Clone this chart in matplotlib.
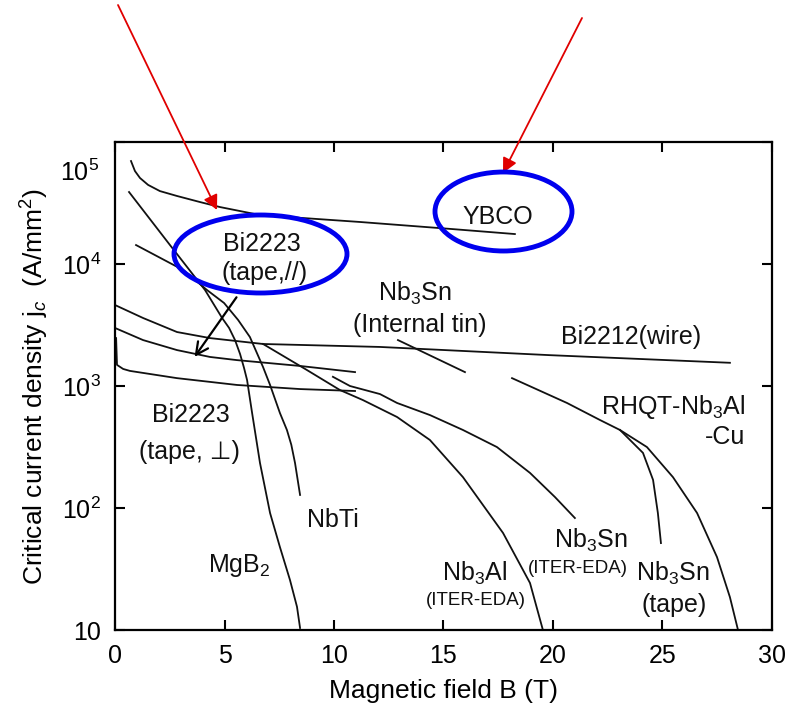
import numpy as np
import matplotlib
matplotlib.use("Agg")
import matplotlib.pyplot as plt
import matplotlib.transforms as mtransforms
from matplotlib.patches import Ellipse

plt.rcParams['font.family'] = ['Liberation Sans', 'DejaVu Sans']
plt.rcParams['mathtext.fontset'] = 'custom'
plt.rcParams['mathtext.rm'] = 'Liberation Sans'
plt.rcParams['mathtext.it'] = 'Liberation Sans:italic'
plt.rcParams['mathtext.bf'] = 'Liberation Sans:bold'

# curves: field B (T) and Jc (A/mm^2)
ybco_b = [0.73, 0.91, 1.14, 1.51, 2.05, 2.83, 3.88, 4.79, 6.62, 11.19, 15.30, 18.26]
ybco_j = [69800, 57800, 50700, 44500, 39600, 36100, 32200, 29300, 25200, 22100, 19400, 17600]

mgb2_b = [0.64, 2.51, 4.11, 4.89, 5.21, 5.48, 5.71, 5.89, 6.03, 6.26, 6.62, 7.08, 7.53, 7.99, 8.31, 8.45]
mgb2_j = [38900, 14300, 6120, 3610, 2990, 2380, 1830, 1410, 1120, 601, 234, 91, 47.9, 25.7, 15.5, 10.4]

nbti_b = [0.96, 3.11, 4.20, 4.98, 5.62, 6.16, 6.76, 7.08, 7.53, 7.85, 8.05, 8.22, 8.45]
nbti_j = [14300, 8930, 6120, 4790, 3480, 2520, 1430, 1020, 601, 436, 330, 234, 128]

bi2212_b = [0, 1.28, 2.83, 4.34, 6.76, 12.10, 19.86, 28.08]
bi2212_j = [4610, 3610, 2770, 2470, 2210, 2090, 1790, 1550]

bi2223_par_b = [0, 1.28, 2.83, 4.34, 5.57, 8.45, 10.96]
bi2223_par_j = [2990, 2380, 1970, 1730, 1630, 1460, 1300]

bi2223_perp_b = [0.05, 0.09, 0.37, 0.68, 2.83, 5.57, 8.45, 10.96]
bi2223_perp_j = [2470, 1490, 1380, 1330, 1160, 1020, 944, 910]

nb3al_b = [6.76, 8.77, 10.27, 11.32, 12.88, 14.38, 15.89, 17.72, 18.95, 19.54]
nb3al_j = [2210, 1350, 927, 767, 557, 361, 179, 62.4, 24.3, 10]

nb3sn_iter_b = [9.95, 10.73, 12.10, 12.88, 14.38, 15.89, 17.44, 18.95, 20.09, 21.0]
nb3sn_iter_j = [1190, 1000, 859, 726, 578, 436, 316, 194, 123, 82.8]

nb3sn_it_b = [12.92, 15.98]
nb3sn_it_j = [2380, 1300]

rhqt_b = [18.13, 20.64, 22.15, 23.06, 24.29, 25.48, 26.58, 27.49, 28.08, 28.45]
rhqt_j = [1160, 726, 526, 436, 316, 179, 91, 39.6, 18.6, 10]

nb3sn_tape_b = [23.06, 24.11, 24.57, 24.79, 24.93]
nb3sn_tape_j = [436, 283, 170, 91, 51.6]

curves = [
    (ybco_b, ybco_j), (mgb2_b, mgb2_j), (nbti_b, nbti_j),
    (bi2212_b, bi2212_j), (bi2223_par_b, bi2223_par_j), (bi2223_perp_b, bi2223_perp_j),
    (nb3al_b, nb3al_j), (nb3sn_iter_b, nb3sn_iter_j), (nb3sn_it_b, nb3sn_it_j),
    (rhqt_b, rhqt_j), (nb3sn_tape_b, nb3sn_tape_j),
]

# labels: text, B, Jc, alignment, size
labels = [
    ("YBCO", 17.47, 24300, "center", 18),
    ("Bi2223", 6.71, 14600, "center", 18),
    ("(tape,//)", 6.85, 8430, "center", 18),
    ("Nb$_3$Sn", 13.7, 5780, "center", 18),
    ("(Internal tin)", 13.93, 3160, "center", 18),
    ("Bi2212(wire)", 23.56, 2520, "center", 18),
    ("RHQT-Nb$_3$Al", 28.77, 673, "right", 18),
    ("-Cu", 28.77, 382, "right", 18),
    ("Bi2223", 3.47, 578, "center", 18),
    ("(tape, \u22a5)", 3.42, 288, "center", 18),
    ("NbTi", 9.95, 79.8, "center", 18),
    ("MgB$_2$", 5.66, 34.1, "center", 18),
    ("Nb$_3$Al", 16.44, 29.3, "center", 18),
    ("(ITER-EDA)", 16.48, 17.6, "center", 13.5),
    ("Nb$_3$Sn", 21.74, 54.7, "center", 18),
    ("(ITER-EDA)", 21.14, 32.2, "center", 13.5),
    ("Nb$_3$Sn", 25.48, 29.3, "center", 18),
    ("(tape)", 25.52, 16.0, "center", 18),
]

y_ticks = [10, 100, 1000, 10000, 100000]
y_ticklabels = ["10", "10$^2$", "10$^3$", "10$^4$", "10$^5$"]

fig = plt.figure(figsize=(7.96, 7.23), dpi=100)
ax = fig.add_axes([0.1445, 0.1286, 0.8253, 0.675])

for b, j in curves:
    ax.plot(b, j, color="#111111", lw=1.3)

for txt, b, j, ha, fs in labels:
    ax.text(b, j, txt, ha=ha, va="center", fontsize=fs, color="#111111")

# black arrow from Bi2223 (tape,//) label down to its curve
ax.annotate("", xy=(3.56, 1660), xytext=(5.62, 5570),
            arrowprops=dict(arrowstyle="->", color="black", lw=1.6, mutation_scale=22))

ax.set_yscale("log")
ax.set_xlim(0, 30)
ax.set_ylim(10, 1e5)
ax.set_xticks([0, 5, 10, 15, 20, 25, 30])
ax.set_yticks(y_ticks)
# top label sits a bit below the frame corner in the original
ax.set_yticklabels(y_ticklabels[:-1] + [""])
ax.minorticks_off()
ax.tick_params(direction="in", length=7, width=1.5, top=True, right=True,
               labelsize=18, pad=10)
for s in ax.spines.values():
    s.set_linewidth(1.6)

trans = mtransforms.blended_transform_factory(ax.transAxes, ax.transData)
ax.text(-0.025, 10 ** 4.75, y_ticklabels[-1], transform=trans,
        ha="right", va="center", fontsize=18)

ax.set_xlabel("Magnetic field B (T)", fontsize=19, labelpad=8)
ax.set_ylabel("Critical current density j$_c$  (A/mm$^2$)", fontsize=19, labelpad=8)

# red arrows and blue ellipses drawn over the figure (pixel / inch positions)
for start, tip in [((118, 718), (217, 513)), ((582, 705), (503, 550))]:
    ax.annotate("", xy=tip, xycoords="figure pixels", xytext=start,
                textcoords="figure pixels", annotation_clip=False,
                arrowprops=dict(arrowstyle="-|>", color="#e00000", lw=1.3,
                                mutation_scale=22, shrinkA=0, shrinkB=0))

for cx, cy, w, h in [(2.605, 4.69, 1.73, 0.78), (5.035, 5.115, 1.37, 0.79)]:
    fig.add_artist(Ellipse((cx, cy), w, h, transform=fig.dpi_scale_trans,
                           fill=False, edgecolor="#0000ee", lw=3.5))

plt.savefig("out.png", dpi=100)
